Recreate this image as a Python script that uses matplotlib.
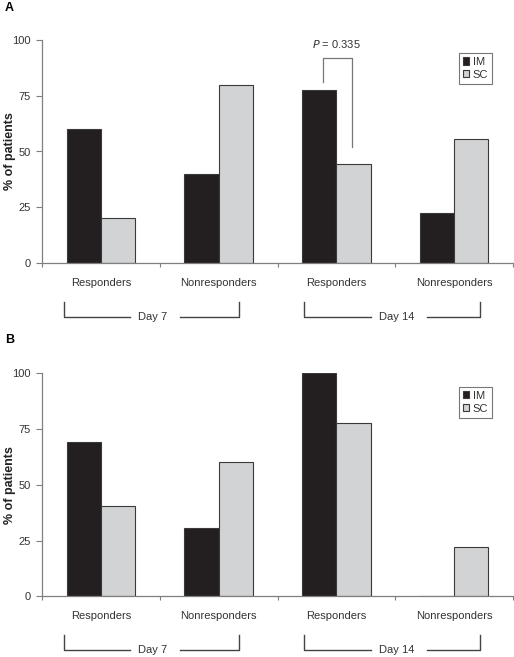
import numpy as np
import matplotlib
matplotlib.use('Agg')
import matplotlib.pyplot as plt
import matplotlib.transforms as mtransforms

plt.rcParams['font.family'] = ['Liberation Sans', 'DejaVu Sans']

categories = ['Responders', 'Nonresponders', 'Responders', 'Nonresponders']
groups = ['Day 7', 'Day 14']
series = ['IM', 'SC']

# Panel A
im_a = [60, 40, 77.8, 22.2]
sc_a = [20, 80, 44.4, 55.6]
# Panel B
im_b = [69.2, 30.8, 100, 0]
sc_b = [40.5, 60.2, 77.8, 22.2]

p_text = '$P$ = 0.335'

dark = '#231f20'
light = '#d1d3d4'
axis_gray = '#7f7f7f'
text_col = '#333333'

W, H = 514, 657
fig = plt.figure(figsize=(W / 100, H / 100), dpi=100)


def make_panel(bottom_px, letter, letter_px, im, sc, legend_top_px, pvalue=False):
    left = 42 / W
    ax = fig.add_axes([left, 1 - bottom_px / H, (513 - 42) / W, 223 / H])
    x = np.arange(len(categories))
    w = 0.29
    ax.bar(x - w / 2, im, w, color=dark, edgecolor='#3a3a3a', linewidth=0.8, label=series[0])
    ax.bar(x + w / 2, sc, w, color=light, edgecolor='#3a3a3a', linewidth=0.8, label=series[1])
    ax.set_xlim(-0.5, 3.5)
    ax.set_ylim(0, 100)
    ax.set_yticks([0, 25, 50, 75, 100])
    ax.set_xticks(np.arange(-0.5, 4, 1))
    ax.set_xticklabels([])
    ax.tick_params(axis='y', length=4, color=axis_gray, labelsize=8, labelcolor=text_col, pad=4)
    ax.tick_params(axis='x', length=3, color=axis_gray)
    for s in ['top', 'right']:
        ax.spines[s].set_visible(False)
    for s in ['left', 'bottom']:
        ax.spines[s].set_color(axis_gray)
        ax.spines[s].set_linewidth(0.9)
    ax.set_ylabel('% of patients', fontsize=9, fontweight='bold', color='#222222')
    ax.yaxis.set_label_coords(-26 / 471, 0.5)

    trans = mtransforms.blended_transform_factory(ax.transData, ax.transAxes)
    for xi, lab in zip(x, categories):
        ax.text(xi, -0.09, lab, transform=trans, ha='center', va='center',
                fontsize=8, color=text_col)

    # group brackets
    y_top, y_bot = -0.175, -0.243
    spans = [(-0.313, 1.173, 0.443, 0.247, 0.672), (1.725, 3.22, 2.515, 2.29, 2.77)]
    for (x0, x1, xt, g0, g1), g in zip(spans, groups):
        kw = dict(transform=trans, color='#444444', lw=1.0, clip_on=False)
        ax.plot([x0, x0, g0], [y_top, y_bot, y_bot], **kw)
        ax.plot([g1, x1, x1], [y_bot, y_bot, y_top], **kw)
        ax.text(xt, y_bot, g, transform=trans, ha='center', va='center',
                fontsize=8, color=text_col)

    if pvalue:
        ax.plot([1.886, 1.886, 2.133, 2.133], [81.2, 91.9, 91.9, 52],
                color='#777777', lw=0.9, clip_on=False)
        ax.text(2.0, 98.2, p_text, ha='center', va='center', fontsize=8, color=text_col)

    leg = ax.legend(loc='upper right', bbox_to_anchor=(492 / W, 1 - legend_top_px / H),
                    bbox_transform=fig.transFigure, fontsize=8, frameon=True, fancybox=False,
                    handlelength=0.6, handleheight=0.6, handletextpad=0.3, borderpad=0.35,
                    labelspacing=0.25, borderaxespad=0)
    leg.get_frame().set_edgecolor('#555555')
    leg.get_frame().set_linewidth(0.8)
    for t in leg.get_texts():
        t.set_color(text_col)

    fig.text(5 / W, 1 - letter_px / H, letter, fontsize=9, fontweight='bold', va='center', ha='left')
    return ax


make_panel(263, 'A', 8, im_a, sc_a, 53, pvalue=True)
make_panel(596.3, 'B', 340, im_b, sc_b, 387)

fig.savefig('out.png', dpi=100)
